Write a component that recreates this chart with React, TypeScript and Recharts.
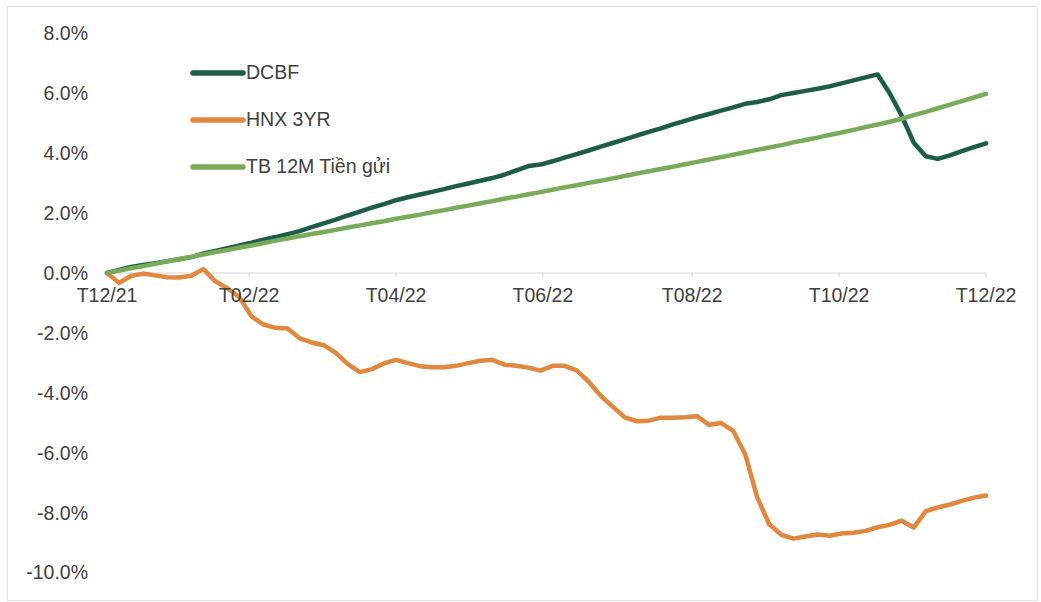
import { LineChart, Line, XAxis, YAxis, ReferenceLine, ReferenceDot } from 'recharts'

// ============================================
// Data (days since 31/12/2021, return in %)
// ============================================

const days = [
  0, 5, 10, 15, 20, 25, 30, 35, 40, 45, 50, 55, 60, 65, 70, 75, 80, 85, 90, 95,
  100, 105, 110, 115, 120, 125, 130, 135, 140, 145, 150, 155, 160, 165, 170, 175, 180, 185, 190, 195,
  200, 205, 210, 215, 220, 225, 230, 235, 240, 245, 250, 255, 260, 265, 270, 275, 280, 285, 290, 295,
  300, 305, 310, 315, 320, 325, 330, 335, 340, 345, 350, 355, 360, 365,
]

const dcbf = [
  0, 0.1, 0.2, 0.27, 0.33, 0.39, 0.46, 0.53, 0.65, 0.74, 0.83, 0.92, 1.01, 1.11, 1.2, 1.3, 1.4, 1.53, 1.66, 1.78,
  1.92, 2.05, 2.18, 2.3, 2.43, 2.53, 2.62, 2.71, 2.8, 2.9, 2.99, 3.08, 3.17, 3.28, 3.43, 3.57, 3.62, 3.73, 3.85, 3.97,
  4.09, 4.22, 4.34, 4.46, 4.59, 4.71, 4.83, 4.96, 5.08, 5.2, 5.31, 5.42, 5.53, 5.65, 5.71, 5.8, 5.94, 6.01, 6.08, 6.15,
  6.23, 6.33, 6.43, 6.53, 6.63, 6.0, 5.25, 4.35, 3.9, 3.81, 3.93, 4.07, 4.2, 4.33,
]

const hnx = [
  0, -0.33, -0.1, -0.02, -0.08, -0.14, -0.15, -0.09, 0.13, -0.28, -0.51, -0.81, -1.45, -1.72, -1.83, -1.85, -2.18, -2.32, -2.41, -2.67,
  -3.04, -3.31, -3.21, -3.02, -2.9, -3.01, -3.11, -3.15, -3.15, -3.1, -3.01, -2.93, -2.9, -3.06, -3.1, -3.16, -3.26, -3.1, -3.1, -3.25,
  -3.63, -4.1, -4.46, -4.82, -4.95, -4.93, -4.83, -4.83, -4.82, -4.78, -5.07, -5.01, -5.27, -6.05, -7.49, -8.39, -8.74, -8.87, -8.8, -8.73,
  -8.77, -8.7, -8.67, -8.61, -8.49, -8.41, -8.27, -8.5, -7.95, -7.83, -7.73, -7.61, -7.5, -7.43,
]

const tb = [
  0, 0.08, 0.16, 0.23, 0.31, 0.39, 0.47, 0.54, 0.62, 0.7, 0.77, 0.85, 0.92, 1.0, 1.08, 1.15, 1.23, 1.3, 1.37, 1.44,
  1.52, 1.59, 1.66, 1.73, 1.81, 1.88, 1.95, 2.03, 2.1, 2.18, 2.25, 2.33, 2.4, 2.48, 2.55, 2.63, 2.7, 2.78, 2.86, 2.93,
  3.01, 3.08, 3.16, 3.24, 3.32, 3.4, 3.47, 3.55, 3.63, 3.71, 3.79, 3.87, 3.95, 4.03, 4.11, 4.19, 4.27, 4.36, 4.44, 4.52,
  4.61, 4.69, 4.78, 4.87, 4.96, 5.05, 5.15, 5.27, 5.38, 5.5, 5.62, 5.74, 5.86, 5.98,
]

const tickDays = [0, 59, 120, 181, 243, 304, 365]
const tickLabels = ['T12/21', 'T02/22', 'T04/22', 'T06/22', 'T08/22', 'T10/22', 'T12/22']
const yTicks = [-10, -8, -6, -4, -2, 0, 2, 4, 6, 8]

const SERIES = [
  { key: 'dcbf', name: 'DCBF', color: '#1d5c48' },
  { key: 'hnx', name: 'HNX 3YR', color: '#e0883f' },
  { key: 'tb', name: 'TB 12M Tiền gửi', color: '#7aab58' },
]

const data = days.map((day, i) => ({ day, dcbf: dcbf[i], hnx: hnx[i], tb: tb[i] }))

const TEXT = '#404040'
const FONT = 19.5

// legend: thick line sample + label, stacked (sits inside the plot, top-left)
function LegendBox() {
  return (
    <div style={{ position: 'absolute', left: 190, top: 49 }}>
      {SERIES.map(s => (
        <div key={s.key} style={{ display: 'flex', alignItems: 'center', height: 47 }}>
          <svg width={56} height={8} style={{ display: 'block' }}>
            <line x1={3} y1={4} x2={53} y2={4} stroke={s.color} strokeWidth={5.5} strokeLinecap="round" />
          </svg>
          <span style={{ fontSize: FONT, color: TEXT, whiteSpace: 'nowrap' }}>{s.name}</span>
        </div>
      ))}
    </div>
  )
}

export default function App() {
  return (
    <div
      style={{
        position: 'absolute',
        left: 0,
        top: 0,
        width: 1041,
        height: 602,
        background: '#fff',
        fontFamily: '"Liberation Sans", Arial, sans-serif',
      }}
    >
      <div
        style={{
          position: 'absolute',
          left: 7,
          top: 6,
          width: 1029,
          height: 593,
          border: '1px solid #e2e2e2',
        }}
      />
      <LineChart width={1041} height={602} data={data} margin={{ top: 33.4, right: 55, bottom: 29.5, left: 0 }}>
        <XAxis dataKey="day" type="number" domain={[0, 365]} hide />
        <YAxis
          width={107}
          domain={[-10, 8]}
          ticks={yTicks}
          interval={0}
          axisLine={false}
          tickLine={false}
          tickMargin={13}
          tick={{ fill: TEXT, fontSize: FONT }}
          tickFormatter={(v: number) => `${v.toFixed(1)}%`}
        />

        {/* category axis drawn on the zero line */}
        <ReferenceLine y={0} stroke="#d4d4d4" strokeWidth={1} />
        {tickDays.map(d => (
          <ReferenceLine
            key={`t${d}`}
            segment={[{ x: d, y: 0 }, { x: d, y: -0.14 }]}
            stroke="#d4d4d4"
            strokeWidth={1}
          />
        ))}
        {tickDays.map((d, i) => (
          <ReferenceDot
            key={`l${d}`}
            x={d}
            y={0}
            r={0}
            fill="none"
            stroke="none"
            ifOverflow="visible"
            label={{ value: tickLabels[i], position: 'bottom', offset: 15, fill: TEXT, fontSize: FONT }}
          />
        ))}

        {SERIES.map(s => (
          <Line
            key={s.key}
            type="linear"
            dataKey={s.key}
            name={s.name}
            stroke={s.color}
            strokeWidth={4.5}
            strokeLinejoin="round"
            strokeLinecap="round"
            dot={false}
            isAnimationActive={false}
          />
        ))}
      </LineChart>
      <LegendBox />
    </div>
  )
}
